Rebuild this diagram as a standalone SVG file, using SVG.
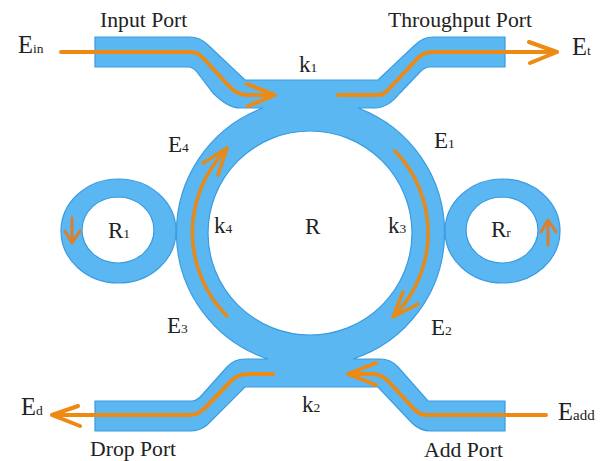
<svg xmlns="http://www.w3.org/2000/svg" width="607" height="461" viewBox="0 0 607 461">
<style>
.wg{fill:#5ab7f2;stroke:#3a9be0;stroke-width:1.2}
.ow{fill:none;stroke:#ed8a14;stroke-width:4;stroke-linecap:round;stroke-linejoin:round}
.oa{fill:none;stroke:#e58a1c;stroke-width:3.6;stroke-linecap:round;stroke-linejoin:round}
.os{fill:none;stroke:#dc7f2c;stroke-width:3;stroke-linecap:round;stroke-linejoin:round}
text{font-family:"Liberation Serif",serif;fill:#222}
.p{font-size:21.7px}.e{font-size:24.500px}.k{font-size:23px}
.s{font-size:13.500px}
</style>
<rect width="607" height="461" fill="#fff"/>
<g id="main-ring">
<path class="wg" fill-rule="evenodd" d="M95 37H190Q200 37 208 45L245 80H378L415 45Q423 37 433 37H505V67H430Q425 67 420 72L400 93Q388 108 375 108H358A133 133 0 0 1 353 359H380Q391 359 398 367L428 401H505V431H431Q420 431 412 423L378 387H245L207 425Q200 431 190 431H95V401H192Q197 401 202 395L227 367Q234 359 245 359H268A133 133 0 0 1 263 108H240Q228 108 213 93L197 72Q193 67 188 67H95ZM310 131A102 102 0 1 0 310.01 335A102 102 0 1 0 310 131Z"/>
</g>
<g id="left-ring"><path class="wg" fill-rule="evenodd" d="M118.500 179A57.500 52 0 1 0 118.510 283A57.500 52 0 1 0 118.500 179ZM118 197A36 33 0 1 1 117.990 263A36 33 0 1 1 118 197Z"/></g>
<g id="right-ring"><path class="wg" fill-rule="evenodd" d="M502.500 179A57.500 52 0 1 0 502.510 283A57.500 52 0 1 0 502.500 179ZM502 197A36 33 0 1 1 501.990 263A36 33 0 1 1 502 197Z"/></g>
<g id="connectors">
<path class="ow" d="M61 52H190Q198 52 204 59L227 84Q236 95 247 95H274M247 84L275 95L248 106"/>
<path class="ow" d="M338 95H378Q383 95 388 90L416 60Q423 52 432 52H556M529 42L557 52L530 63"/>
<path class="oa" d="M395 151A118 118 0 0 1 394 316M403 292L393 317L418 304"/>
<path class="oa" d="M227 316A118 118 0 0 1 227 149M203 163L227 148L218 175"/>
<path class="ow" d="M273 374H248Q238 374 231 381L207 406Q199 415 190 415H53M78 406L52 415L80 426"/>
<path class="ow" d="M546 415H426Q420 415 414 409L390 383Q382 374 372 374H349M376 363L348 374L376 385"/>
<path class="os" d="M72 218V243M65 231L72 243L80 231"/>
<path class="os" d="M548 245V221M541 232L548 220L556 232"/>
</g>
<g id="labels">
<text class="p" x="100" y="27">Input Port</text>
<text class="p" x="388" y="27">Throughput Port</text>
<text class="p" x="90" y="456">Drop Port</text>
<text class="p" x="424" y="457">Add Port</text>
<text class="e" x="18" y="53">E<tspan class="s">in</tspan></text>
<text class="e" x="572" y="55">E<tspan class="s">t</tspan></text>
<text class="e" x="21" y="415">E<tspan class="s">d</tspan></text>
<text class="e" x="558" y="420">E<tspan class="s" style="font-size:15px">add</tspan></text>
<text class="k" x="299" y="72">k<tspan class="s">1</tspan></text>
<text class="k" x="302" y="412">k<tspan class="s">2</tspan></text>
<text class="k" x="388" y="233">k<tspan class="s">3</tspan></text>
<text class="k" x="214" y="233">k<tspan class="s">4</tspan></text>
<text class="k" x="434" y="148">E<tspan class="s">1</tspan></text>
<text class="k" x="431" y="335">E<tspan class="s">2</tspan></text>
<text class="k" x="167" y="333">E<tspan class="s">3</tspan></text>
<text class="k" x="168" y="152">E<tspan class="s">4</tspan></text>
<text class="k" x="305" y="234">R</text>
<text class="k" x="108" y="238">R<tspan class="s">1</tspan></text>
<text class="k" x="491" y="237">R<tspan class="s">r</tspan></text>
</g>
</svg>
